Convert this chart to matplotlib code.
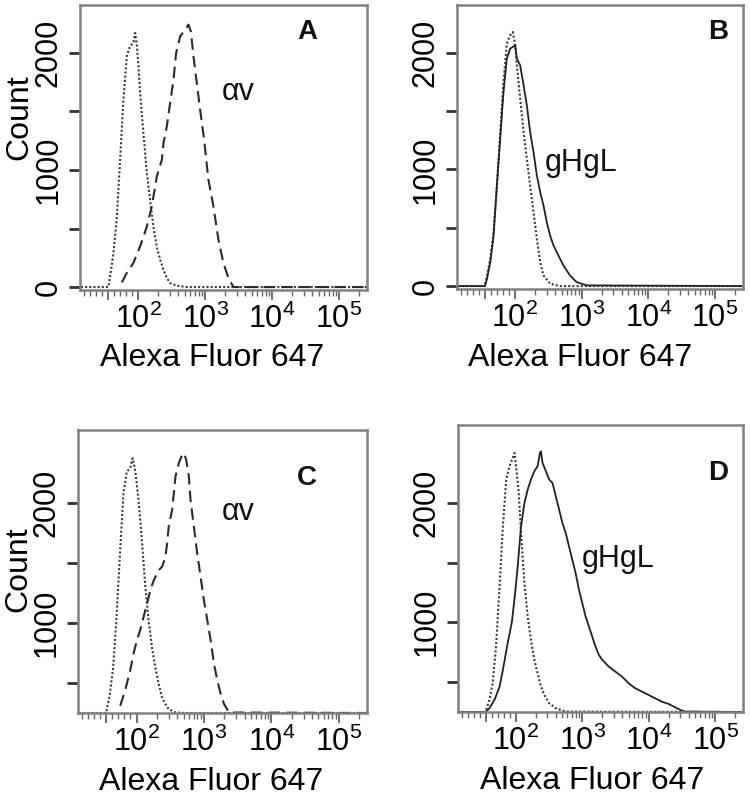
import numpy as np
import matplotlib
matplotlib.use("Agg")
import matplotlib.pyplot as plt
from matplotlib.ticker import FixedLocator, FuncFormatter, NullFormatter

plt.rcParams['font.family'] = ['Liberation Sans', 'DejaVu Sans']
plt.rcParams['mathtext.fontset'] = 'custom'
plt.rcParams['mathtext.rm'] = 'Liberation Sans'
plt.rcParams['mathtext.it'] = 'Liberation Sans'

# ---- data (fluorescence, count) ----
# panel A
a_ctrl_x = [-90, 0, 1, 7, 18, 29, 40, 51, 62, 73, 84, 90, 96, 101, 107, 120, 135, 151,
            169, 190, 213, 239, 268, 300, 378, 533, 262000]
a_ctrl_y = [0, 0, 0, 91, 290, 590, 1085, 1597, 1970, 2057, 2085, 2170, 2057, 1886, 1656,
            1311, 969, 741, 513, 342, 234, 148, 77, 34, 11, 0, 0]
a_av_x = [46, 62, 84, 107, 135, 160, 190, 226, 239, 268, 300, 337, 369, 424, 503, 564,
          612, 670, 751, 842, 966, 1120, 1330, 1580, 1877, 2230, 2650, 262000]
a_av_y = [40, 120, 205, 348, 519, 690, 946, 1088, 1231, 1373, 1573, 1772, 2000, 2142,
          2199, 2242, 2185, 1972, 1744, 1516, 1259, 917, 689, 405, 205, 77, 0, 0]

# panel B
b_ctrl_x = [-90, 0, 7, 18, 29, 40, 51, 62, 73, 84, 93, 101, 107, 120, 135, 151, 169, 190,
            213, 239, 268, 337, 475, 262000]
b_ctrl_y = [0, 0, 91, 234, 463, 863, 1320, 1749, 2077, 2149, 2177, 2063, 1891, 1606,
            1320, 1091, 863, 634, 406, 206, 91, 20, 0, 0]
b_gh_x = [-90, 0, 7, 18, 29, 40, 51, 62, 73, 84, 101, 107, 120, 135, 151, 169, 190, 213,
          239, 268, 300, 337, 378, 424, 475, 533, 670, 842, 1190, 262000]
b_gh_y = [0, 0, 63, 206, 434, 863, 1263, 1663, 1949, 2034, 2063, 1949, 1891, 1720, 1549,
          1320, 1149, 949, 806, 691, 549, 434, 349, 291, 234, 177, 91, 34, 6, 0]

# panel C
c_ctrl_x = [-90, 0, 1, 12, 23, 34, 46, 57, 68, 79, 87, 96, 107, 120, 135, 151, 169, 190,
            213, 239, 268, 300, 378, 533, 262000]
c_ctrl_y = [245, 245, 263, 403, 627, 1048, 1608, 2084, 2266, 2294, 2378, 2266, 2028, 1692,
            1300, 1020, 796, 627, 487, 375, 319, 277, 249, 245, 245]
c_av_x = [46, 62, 79, 90, 101, 113, 127, 143, 160, 180, 213, 239, 268, 284, 300, 337, 357,
          378, 424, 475, 503, 545, 597, 632, 709, 795, 892, 1000, 1122, 1258, 1410, 1581,
          1774, 1989, 2360, 262000]
c_av_y = [305, 431, 599, 740, 852, 936, 1048, 1160, 1272, 1356, 1440, 1468, 1552, 1664,
          1804, 1944, 2084, 2224, 2336, 2406, 2420, 2364, 2224, 2028, 1804, 1580, 1384,
          1188, 1020, 852, 655, 515, 403, 319, 249, 245]

# panel D
d_ctrl_x = [-90, 0, 1, 12, 23, 34, 46, 57, 68, 79, 90, 96, 101, 111, 120, 135, 151, 169,
            190, 213, 239, 268, 318, 400, 564, 262000]
d_ctrl_y = [245, 245, 263, 347, 487, 796, 1300, 1804, 2196, 2308, 2378, 2420, 2308, 2084,
            1748, 1328, 1048, 852, 684, 571, 459, 389, 319, 277, 249, 245]
d_gh_x = [-90, 0, 1, 12, 29, 46, 57, 73, 87, 98, 107, 120, 135, 151, 169, 190, 213, 231,
          239, 253, 284, 318, 357, 400, 449, 503, 564, 632, 709, 795, 892, 1000, 1122,
          1258, 1410, 1581, 1774, 1989, 2230, 2500, 3140, 3950, 4970, 6250, 7860, 9890,
          12400, 15600, 19700, 24700, 31100, 34900, 262000]
d_gh_y = [245, 245, 249, 277, 347, 459, 599, 824, 1000, 1244, 1468, 1804, 2000, 2112,
          2196, 2266, 2308, 2420, 2434, 2336, 2266, 2196, 2168, 2056, 1944, 1832, 1748,
          1636, 1524, 1412, 1272, 1160, 1048, 964, 880, 796, 726, 684, 656, 627, 585,
          543, 487, 445, 417, 389, 361, 333, 314, 286, 258, 249, 245]

xticks = [1e2, 1e3, 1e4, 1e5]
xticklabels = [r'$10^2$', r'$10^3$', r'$10^4$', r'$10^5$']
yticks = [0, 1000, 2000]
yminor = [500, 1500]

fig = plt.figure(figsize=(7.5, 8.05), dpi=100)

panels = [
    # rect, ylim, letter + pos, marker label + pos, xlabel x, count label pos
    ([0.1067, 0.6398, 0.3827, 0.354], (-25, 2410), 'A', (0.826, 0.88),
     'αv', (0.495, 0.667), 0.46, (-0.16, 0.607)),
    ([0.6093, 0.6410, 0.3813, 0.353], (-25, 2410), 'B', (0.948, 0.88),
     'gHgL', (0.308, 0.414), 0.43, None),
    ([0.1040, 0.1143, 0.3853, 0.3515], (245, 2613), 'C', (0.826, 0.806),
     'αv', (0.497, 0.682), 0.462, (-0.153, 0.509)),
    ([0.6107, 0.1155, 0.3800, 0.3566], (245, 2655), 'D', (0.947, 0.808),
     'gHgL', (0.435, 0.505), 0.47, None),
]
series = [
    (a_ctrl_x, a_ctrl_y, a_av_x, a_av_y, 'dash'),
    (b_ctrl_x, b_ctrl_y, b_gh_x, b_gh_y, 'solid'),
    (c_ctrl_x, c_ctrl_y, c_av_x, c_av_y, 'dash'),
    (d_ctrl_x, d_ctrl_y, d_gh_x, d_gh_y, 'solid'),
]

minor_x = ([-80, -60, -40, -20, 20, 40, 60, 80]
           + [m * 10 ** e for e in (2, 3, 4) for m in range(2, 10)]
           + [2e5])

for (rect, ylim, letter, letpos, lab, labpos, xlab_x, count_pos), (cx, cy, sx, sy, kind) in zip(panels, series):
    ax = fig.add_axes(rect)
    ax.set_xscale('symlog', linthresh=100, linscale=0.405)
    ax.plot(cx, cy, color='#3a3a3a', lw=1.5, linestyle=(0, (1, 1)))
    if kind == 'dash':
        ax.plot(sx, sy, color='#2a2a2a', lw=1.5, linestyle=(0, (5.5, 3)))
    else:
        ax.plot(sx, sy, color='#222222', lw=1.3)

    ax.xaxis.set_major_locator(FixedLocator([0] + xticks))
    ax.xaxis.set_major_formatter(FuncFormatter(
        lambda v, p: dict(zip(xticks, xticklabels)).get(v, '')))
    ax.xaxis.set_minor_locator(FixedLocator(minor_x))
    ax.xaxis.set_minor_formatter(NullFormatter())
    ax.set_yticks(yticks)
    ax.set_yticks(yminor, minor=True)
    ax.set_xlim(-93, 262144)
    ax.set_ylim(*ylim)

    ax.tick_params(axis='x', which='major', direction='out', length=7, width=1.2,
                   color='#555555', labelsize=22, pad=3)
    ax.tick_params(axis='x', which='minor', direction='out', length=4, width=1.0,
                   color='#666666')
    ax.tick_params(axis='y', which='major', direction='out', length=8, width=2,
                   color='#333333', labelsize=22, pad=4)
    ax.tick_params(axis='y', which='minor', direction='out', length=8, width=2,
                   color='#333333')
    for t in ax.get_yticklabels():
        t.set_rotation(90)
        t.set_va('center')
    for s in ax.spines.values():
        s.set_color('#808080')
        s.set_linewidth(1.8)

    ax.set_xlabel('Alexa Fluor 647', fontsize=23, labelpad=6)
    ax.xaxis.label.set_x(xlab_x)
    if count_pos is not None:
        ax.set_ylabel('Count', fontsize=23)
        ax.yaxis.set_label_coords(*count_pos)

    ax.text(letpos[0], letpos[1], letter, transform=ax.transAxes,
            fontsize=20, fontweight='bold', ha='right', va='baseline', color='#111111')
    ax.text(labpos[0], labpos[1], lab, transform=ax.transAxes, fontsize=22,
            ha='left', va='baseline', color='#111111')

fig.savefig('out.png', dpi=100)
